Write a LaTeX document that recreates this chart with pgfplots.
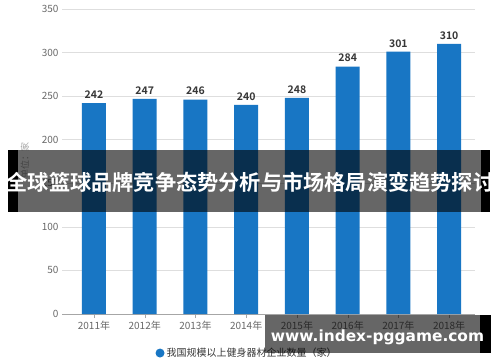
\documentclass[border=0pt]{standalone}
\usepackage{fontspec}
\setmainfont{Noto Sans CJK SC}[BoldFont={Noto Sans CJK SC Bold}]
\newfontfamily\urlfont{DejaVu Sans}
\usepackage{pgfplots}
\pgfplotsset{compat=1.18}
\definecolor{barblue}{RGB}{24,118,196}
\definecolor{txtgray}{RGB}{105,105,105}
\definecolor{gridgray}{RGB}{222,222,222}
\definecolor{valgray}{RGB}{55,55,55}
\begin{document}
\begin{tikzpicture}[x=1pt,y=1pt]
\path[use as bounding box, fill=white] (0,0) rectangle (500,362);
\begin{axis}[
  at={(62pt,48pt)}, anchor=south west, scale only axis,
  width=413pt, height=305pt,
  xmin=-0.63, xmax=7.51, ymin=0, ymax=350,
  ytick={0,50,...,350},
  xtick={0,...,7},
  xticklabels={2011年,2012年,2013年,2014年,2015年,2016年,2017年,2018年},
  axis x line*=bottom, axis y line*=left,
  y axis line style={draw=none},
  x axis line style={draw=gray!70},
  ytick style={draw=none},
  xtick style={draw=gray!70},
  major tick length=4pt,
  ymajorgrids, grid style={gridgray, line width=0.6pt},
  /pgf/number format/assume math mode=true,
  yticklabel style={font=\fontsize{10}{12}\selectfont, text=txtgray},
  xticklabel style={font=\fontsize{10}{12}\selectfont, text=txtgray},
  ybar, bar width=24pt,
  nodes near coords,
  every node near coord/.append style={font=\bfseries\fontsize{10.5}{12}\selectfont, text=valgray, yshift=1pt},
  legend style={draw=none, fill=none, at={(0.448,-0.128)}, anchor=center,
    font=\fontsize{10}{12}\selectfont, text=valgray},
  legend image code/.code={\fill[barblue] (0pt,0pt) circle (4.5pt);},
]
\addplot[fill=barblue, draw=none] coordinates {
  (0,242) (1,247) (2,246) (3,240) (4,248) (5,284) (6,301) (7,310)};
\addlegendentry{我国规模以上健身器材企业数量（家）}
\end{axis}
\node[rotate=90, text=gray!70, font=\fontsize{9}{10}\selectfont] at (25,202) {单位：家};
% banner
\fill[black, opacity=0.6] (18,150) rectangle (481,212);
\fill[black] (8,150) rectangle (18,212);
\fill[black] (481,150) rectangle (490,212);
\node[text=white, font=\bfseries\fontsize{21.2}{24}\selectfont, inner sep=0] at (250.5,180) {全球篮球品牌竞争态势分析与市场格局演变趋势探讨};
% url box
\fill[black, opacity=0.6] (265,9) rectangle (480,47);
\fill[black] (480,9) rectangle (491,47);
\node[text=white, font=\urlfont\bfseries\fontsize{15.4}{18}\selectfont, inner sep=0] at (377.5,25) {www.index-pggame.com};
\end{tikzpicture}
\end{document}
